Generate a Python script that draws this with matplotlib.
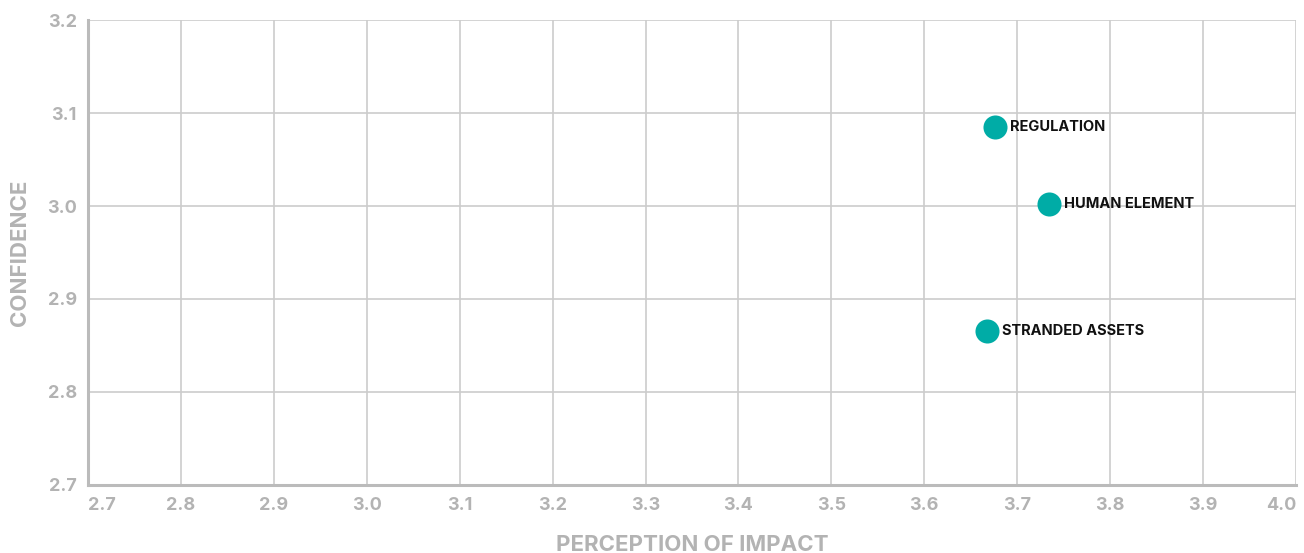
import matplotlib.pyplot as plt
import numpy as np

plt.rcParams['font.family'] = ['Inter', 'DejaVu Sans']

labels = ["REGULATION", "HUMAN ELEMENT", "STRANDED ASSETS"]
impact = [3.676, 3.734, 3.667]
confidence = [3.085, 3.002, 2.866]

x_ticks = np.round(np.arange(2.7, 4.01, 0.1), 1)
y_ticks = np.round(np.arange(2.7, 3.21, 0.1), 1)

gray = "#b3b3b3"
teal = "#00aca6"

fig = plt.figure(figsize=(13.04, 5.53), dpi=100)
ax = fig.add_axes([0.0675, 0.123, 0.9264, 0.8408])

ax.scatter(impact, confidence, s=300, color=teal, zorder=3, linewidths=0)
for x, y, t in zip(impact, confidence, labels):
    ax.annotate(t, (x, y), xytext=(11, 0), textcoords="offset points",
                va="center", ha="left", fontsize=10.5, fontweight="bold",
                color="#111111", zorder=4)

ax.set_xlim(2.7, 4.0)
ax.set_ylim(2.7, 3.2)
ax.set_xticks(x_ticks)
ax.set_yticks(y_ticks)
ax.set_xticklabels([f"{v:.1f}" for v in x_ticks])
ax.set_yticklabels([f"{v:.1f}" for v in y_ticks])
ax.grid(True, color="#cccccc", linewidth=1.2)
ax.set_axisbelow(True)

for side in ["top", "right"]:
    ax.spines[side].set_visible(False)
for side in ["left", "bottom"]:
    ax.spines[side].set_color("#bbbbbb")
    ax.spines[side].set_linewidth(2.2)

ax.tick_params(axis="x", length=0, pad=9, labelsize=13, labelcolor=gray)
ax.tick_params(axis="y", length=0, pad=8, labelsize=13, labelcolor=gray)
for lab in ax.get_xticklabels() + ax.get_yticklabels():
    lab.set_fontweight("bold")
xl = ax.get_xticklabels()
xl[0].set_ha("left")
xl[-1].set_ha("right")

ax.set_xlabel("PERCEPTION OF IMPACT", fontsize=16, fontweight="bold", color=gray)
ax.set_ylabel("CONFIDENCE", fontsize=16, fontweight="bold", color=gray)
ax.xaxis.set_label_coords(0.5, -0.129)
ax.yaxis.set_label_coords(-0.0563, 0.5)
ax.xaxis.label.set_va("center")
ax.yaxis.label.set_va("center")

fig.savefig("out.png", dpi=100)
